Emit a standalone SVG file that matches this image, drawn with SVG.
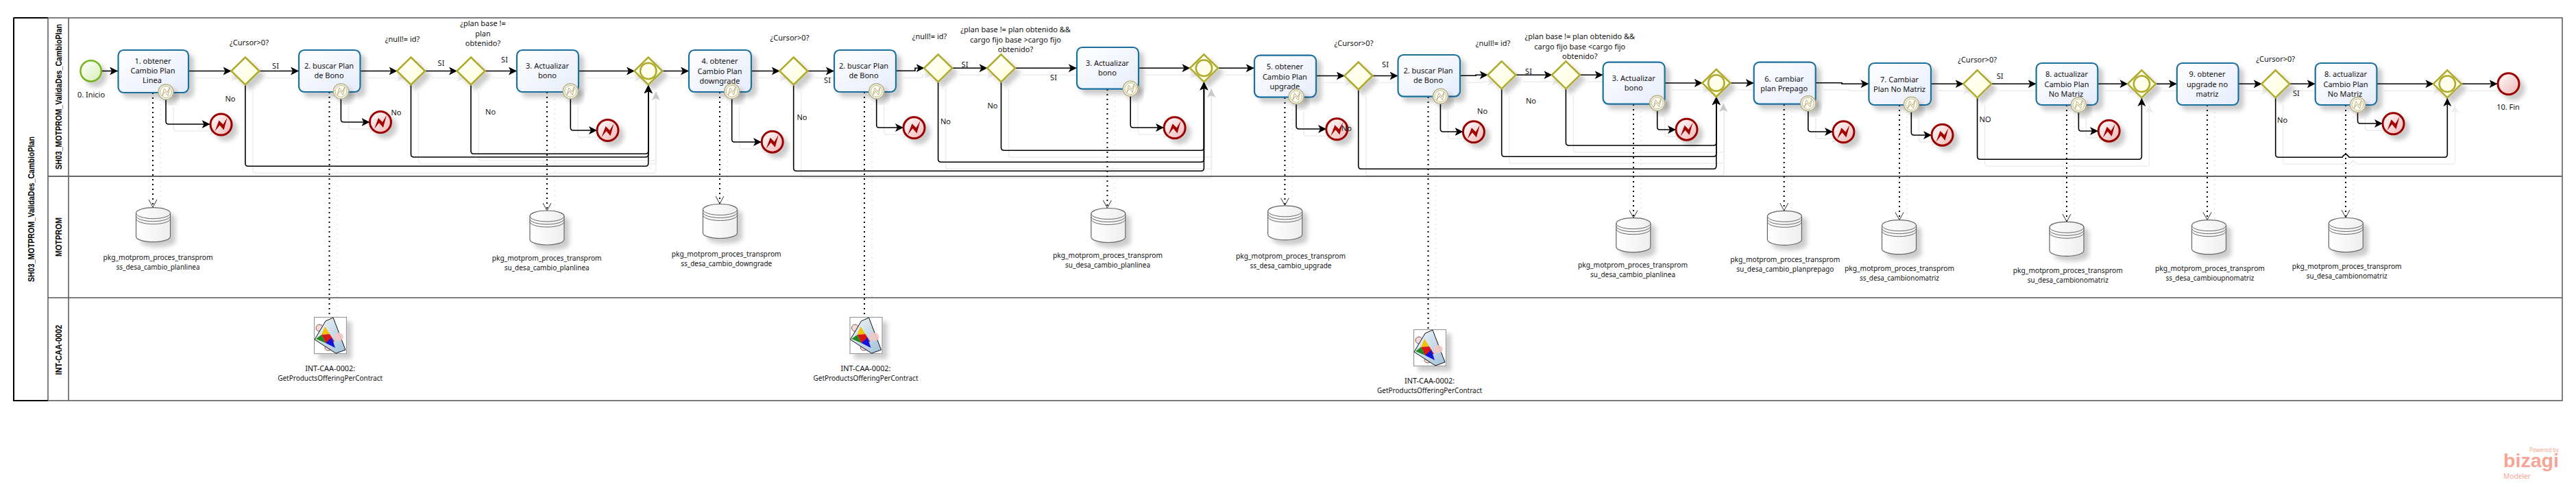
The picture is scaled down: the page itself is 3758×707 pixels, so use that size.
<svg xmlns="http://www.w3.org/2000/svg" width="3758" height="707" viewBox="0 0 3758 707">
<style>
text{font-family:"Noto Sans","Liberation Sans",sans-serif;font-size:11px;fill:#111;text-anchor:middle;dominant-baseline:central}
.head{font-family:"Liberation Sans",sans-serif;font-weight:bold;font-size:12.5px;fill:#000}
.task{fill:url(#gt);stroke:#1d6f9e;stroke-width:2.2;filter:url(#sh)}
.gw{fill:url(#gg);stroke:#aeaa2c;stroke-width:2.5;filter:url(#sh)}
.ring{fill:none;stroke:#aeaa2c;stroke-width:2.5}
.fl{fill:none;stroke:#000;stroke-width:1.6;marker-end:url(#ar)}
.dot{fill:none;stroke:#000;stroke-width:2;stroke-dasharray:2 5;marker-end:url(#op)}
.dotn{fill:none;stroke:#000;stroke-width:2;stroke-dasharray:2 5}
.lane{fill:none;stroke:#555;stroke-width:1.5}
</style>
<defs>
<linearGradient id="gt" x1="0" y1="0" x2="1" y2="1"><stop offset="0" stop-color="#fff"/><stop offset="1" stop-color="#e6ecfb"/></linearGradient>
<linearGradient id="gg" x1="0" y1="0" x2="1" y2="1"><stop offset="0" stop-color="#fff"/><stop offset="1" stop-color="#ffffd8"/></linearGradient>
<linearGradient id="gs" x1="0" y1="0" x2="1" y2="1"><stop offset="0" stop-color="#fff"/><stop offset="1" stop-color="#d8edb8"/></linearGradient>
<linearGradient id="ge" x1="0" y1="0" x2="1" y2="1"><stop offset="0" stop-color="#fff"/><stop offset="1" stop-color="#f0b4b4"/></linearGradient>
<linearGradient id="gd" x1="0" y1="0" x2="1" y2="0"><stop offset="0" stop-color="#fff"/><stop offset="1" stop-color="#eee"/></linearGradient>
<linearGradient id="gi" x1="0" y1="0" x2="1" y2="1"><stop offset="0" stop-color="#f4f8fb"/><stop offset="1" stop-color="#9fc0d8"/></linearGradient>
<filter id="sh" x="-30%" y="-30%" width="170%" height="170%"><feDropShadow dx="7" dy="7" stdDeviation="3" flood-color="#000" flood-opacity=".2"/></filter>
<marker id="ar" markerUnits="userSpaceOnUse" markerWidth="14" markerHeight="14" refX="12" refY="6" orient="auto"><path d="M0,0 L12,6 L0,12 L3,6 Z" fill="#000"/></marker>
<marker id="op" markerUnits="userSpaceOnUse" markerWidth="16" markerHeight="14" refX="12" refY="7" orient="auto"><path d="M1,1 L12,7 L1,13" fill="none" stroke="#333" stroke-width="1"/></marker>
<marker id="ag" markerUnits="userSpaceOnUse" markerWidth="14" markerHeight="14" refX="12" refY="6" orient="auto"><path d="M0,0 L12,6 L0,12 L3,6 Z" fill="#c8c8c8"/></marker>
<g id="bnd"><circle r="11" fill="#fff" stroke="#b8b184" stroke-width="1.5" filter="url(#sh)"/><circle r="8.5" fill="#fffdf3" stroke="#b8b184" stroke-width="1"/><path d="M-5.5,6 L-2.5,-5 L2,1 L5.5,-6.5 L3,5.5 L-1.5,-0.5 Z" fill="none" stroke="#b8b184" stroke-width="1"/></g>
<g id="err"><circle r="15.5" fill="url(#ge)" stroke="#9a0000" stroke-width="3" filter="url(#sh)"/><path d="M-9,10 L-3,-6 L3,0 L9,-10 L4,8 L-2,1 Z" fill="#a30000"/></g>
<g id="db"><path d="M0,8 A25,8 0 0 1 50,8 V42 A25,8 0 0 1 0,42 Z" fill="url(#gd)" stroke="#666" stroke-width="1.2" filter="url(#sh)"/><path d="M0,8 A25,8 0 0 0 50,8 M0,12 A25,8 0 0 0 50,12 M0,16 A25,8 0 0 0 50,16" fill="none" stroke="#666" stroke-width="1"/></g>
<g id="svc"><rect x=".5" y=".5" width="47" height="53" fill="#fff" stroke="#999" stroke-width="1.2" filter="url(#sh)"/>
<ellipse cx="8" cy="16" rx="5" ry="5" fill="#f5dcd8" stroke="#855"/><ellipse cx="21" cy="45" rx="5" ry="4" fill="#f5dcd8" stroke="#855"/>
<path d="M1,33 L17,6 L28,1 L46,48 L32,53 Z" fill="url(#gi)" stroke="#111" stroke-width="1"/>
<ellipse cx="36" cy="29" rx="7" ry="6" fill="#f3c8c4" opacity=".9"/>
<path d="M16,14 L23,25 L11,26 Z" fill="#f2c200"/><path d="M11,26 L23,25 L30,36 L17,38 Z" fill="#d81818"/><path d="M3,32 L11,26 L17,38 Z" fill="#1c8a1c"/><path d="M17,38 L26,30 L31,45 Z" fill="#1414d8"/></g>
</defs>

<g id="pool">
<rect x="20" y="26" width="3718" height="558" fill="none" stroke="#555" stroke-width="1.5"/>
<path d="M20,26 H70 M20,26 V584 H70" fill="none" stroke="#000" stroke-width="2"/>
<path class="lane" d="M70,26 V584 M100,26 V584 M70,434 H3738"/>
<path d="M70,257 H3738" fill="none" stroke="#666" stroke-width="2.2"/>
<text class="head" transform="translate(45.5,305) rotate(-90)" textLength="212" lengthAdjust="spacingAndGlyphs">SH03_MOTPROM_ValidaDes_CambioPlan</text>
<text class="head" transform="translate(85.5,141) rotate(-90)" textLength="212" lengthAdjust="spacingAndGlyphs">SH03_MOTPROM_ValidaDes_CambioPlan</text>
<text class="head" transform="translate(85.5,345.5) rotate(-90)" textLength="57" lengthAdjust="spacingAndGlyphs">MOTPROM</text>
<text class="head" transform="translate(85.5,510) rotate(-90)" textLength="73" lengthAdjust="spacingAndGlyphs">INT-CAA-0002</text>
</g>

<use href="#flows" transform="translate(11,10)" opacity=".07"/>
<g id="flows">
<path class="fl" d="M148,103.5 H172"/>
<path class="fl" d="M275,103.5 H337.5"/>
<path class="fl" d="M378,103.5 H436"/>
<path class="fl" d="M525.5,103.5 H579.5"/>
<path class="fl" d="M619.5,103.5 H667"/>
<path class="fl" d="M707,103.5 H754"/>
<path class="fl" d="M844,103.5 H926"/>
<path class="fl" d="M966,103.5 H1005"/>
<path class="fl" d="M1096,103.5 H1137.7"/>
<path class="fl" d="M1177.7,103.5 H1216.8"/>
<path class="fl" d="M1306.8,103.3 H1335 V99.3 H1348.6"/>
<path class="fl" d="M1388.6,99.3 H1440.5"/>
<path class="fl" d="M1480.5,99.3 H1570.8"/>
<path class="fl" d="M1660.7,99.3 H1736.4"/>
<path class="fl" d="M1776.4,99.3 H1829.7"/>
<path class="fl" d="M1919.6,110.5 H1961.7"/>
<path class="fl" d="M2001.7,110.5 H2039.5"/>
<path class="fl" d="M2130,110.3 H2153 V109.3 H2170.7"/>
<path class="fl" d="M2210.7,109.3 H2264.4"/>
<path class="fl" d="M2304.4,109.3 H2338.6"/>
<path class="fl" d="M2428.6,121 H2483.8"/>
<path class="fl" d="M2523.8,121 H2558.7"/>
<path class="fl" d="M2648.6,120.7 H2687 V122.3 H2726.4"/>
<path class="fl" d="M2817,122.3 H2864.6"/>
<path class="fl" d="M2904.6,122.3 H2970.6"/>
<path class="fl" d="M3060.3,122.3 H3104.4"/>
<path class="fl" d="M3144.4,122.3 H3175.8"/>
<path class="fl" d="M3265.5,122.3 H3299.7"/>
<path class="fl" d="M3339.7,122.3 H3377.7"/>
<path class="fl" d="M3467.4,122.3 H3550.3"/>
<path class="fl" d="M3590.3,122.3 H3643.5"/>
<path class="fl" d="M242,145 V177 Q242,181 246,181 H306.5"/>
<path class="fl" d="M497.4,144 V174 Q497.4,178 501,178 H539.5"/>
<path class="fl" d="M832.3,144 V186 Q832.3,190 836,190 H871"/>
<path class="fl" d="M1067.7,144 V203 Q1067.7,207 1071,207 H1111"/>
<path class="fl" d="M1278.7,144 V182 Q1278.7,186 1282,186 H1318"/>
<path class="fl" d="M1649.2,140 V182 Q1649.2,186 1653,186 H1698"/>
<path class="fl" d="M1891,152 V184 Q1891,188 1895,188 H1935"/>
<path class="fl" d="M2101.4,151 V188 Q2101.4,192 2105,192 H2134.5"/>
<path class="fl" d="M2417.7,161 V185 Q2417.7,189 2421,189 H2445"/>
<path class="fl" d="M2637.8,162 V188 Q2637.8,192 2642,192 H2674"/>
<path class="fl" d="M2788.3,163 V193 Q2788.3,197 2792,197 H2818"/>
<path class="fl" d="M3032.4,163 V187 Q3032.4,191 3036,191 H3061"/>
<path class="fl" d="M3439.5,163 V176 Q3439.5,180 3443,180 H3476"/>
<path class="fl" d="M357.8,124 V238 Q357.8,242.3 362,242.3 H941.5 Q945.8,242.3 945.8,238 V124"/>
<path class="fl" d="M599.5,124 V225 Q599.5,229 604,229 H941.5 Q945.8,229 945.8,225 V124"/>
<path class="fl" d="M687,124 V220 Q687,224.3 691,224.3 H941.5 Q945.8,224.3 945.8,220 V124"/>
<path class="fl" d="M1157.7,124 V245 Q1157.7,249.3 1162,249.3 H1752 Q1756.4,249.3 1756.4,245 V119.5"/>
<path class="fl" d="M1368.6,119.5 V232 Q1368.6,236.3 1373,236.3 H1752 Q1756.4,236.3 1756.4,232 V119.5"/>
<path class="fl" d="M1460.5,119.5 V215 Q1460.5,219.3 1465,219.3 H1752 Q1756.4,219.3 1756.4,215 V119.5"/>
<path class="fl" d="M1981.7,131 V242 Q1981.7,246.3 1986,246.3 H2499.5 Q2503.8,246.3 2503.8,242 V141"/>
<path class="fl" d="M2190.7,130 V224 Q2190.7,228.3 2195,228.3 H2499.5 Q2503.8,228.3 2503.8,224 V141"/>
<path class="fl" d="M2284.4,130 V208 Q2284.4,212 2289,212 H2499.5 Q2503.8,212 2503.8,208 V141"/>
<path class="fl" d="M2884.6,143 V228 Q2884.6,232.3 2889,232.3 H3120 Q3124.4,232.3 3124.4,228 V143"/>
<path class="fl" d="M3319.7,143 V225 Q3319.7,229.3 3324,229.3 H3417 Q3422,221 3427,229.3 H3566 Q3570.3,229.3 3570.3,225 V143"/>
<path class="dot" d="M223,135 V302"/>
<path class="dotn" d="M480.5,134 V462"/>
<path class="dot" d="M798,134 V307"/>
<path class="dot" d="M1050,134 V297"/>
<path class="dotn" d="M1261,134 V462"/>
<path class="dot" d="M1615.4,130 V303"/>
<path class="dot" d="M1874.4,142 V299.5"/>
<path class="dotn" d="M2083.5,141 V480"/>
<path class="dot" d="M2383,152 V317.5"/>
<path class="dot" d="M2602.7,152 V307"/>
<path class="dot" d="M2771,153 V320.5"/>
<path class="dot" d="M3015,153 V323"/>
<path class="dot" d="M3220,153 V320.5"/>
<path class="dot" d="M3422,153 V317"/>
</g>
<g id="grey-heads">
<path d="M957,144 V134" marker-end="url(#ag)" fill="none" stroke="#d0d0d0"/>
<path d="M1767,140 V130" marker-end="url(#ag)" fill="none" stroke="#d0d0d0"/>
<path d="M2514,161 V151" marker-end="url(#ag)" fill="none" stroke="#d0d0d0"/>
</g>

<g id="start"><circle cx="132.6" cy="103.5" r="15.2" fill="url(#gs)" stroke="#76b41e" stroke-width="2.5" filter="url(#sh)"/><text x="133" y="137">0. Inicio</text></g>

<g id="task1"><rect class="task" x="172.5" y="73" width="102.5" height="62" rx="8"/><text x="223" y="88">1. obtener</text><text x="223" y="102">Cambio Plan</text><text x="222" y="116">Linea</text><use href="#bnd" x="242" y="134"/></g>
<g id="err1"><use href="#err" x="322.5" y="181.5"/></g>
<g id="gw1"><path class="gw" d="M357.8,83.5 L378.3,103.5 L357.8,123.5 L337.3,103.5 Z"/><text x="363.5" y="61">¿Cursor&gt;0?</text></g>
<g id="task2"><rect class="task" x="436" y="73" width="89.5" height="61" rx="8"/><text x="480" y="95">2. buscar Plan</text><text x="480" y="109">de Bono</text><use href="#bnd" x="497.4" y="133"/></g>
<g id="err2"><use href="#err" x="555" y="178"/></g>
<g id="gw2"><path class="gw" d="M599.5,83.5 L620,103.5 L599.5,123.5 L579,103.5 Z"/><text x="587" y="56.5">¿null!= id?</text></g>
<g id="gw3"><path class="gw" d="M687,83.5 L707.5,103.5 L687,123.5 L666.5,103.5 Z"/><text x="704.5" y="33">¿plan base !=</text><text x="704.5" y="48.5">plan</text><text x="704.5" y="62">obtenido?</text></g>
<g id="task3"><rect class="task" x="754" y="73" width="90" height="61" rx="8"/><text x="798.5" y="95">3. Actualizar</text><text x="798.5" y="109">bono</text><use href="#bnd" x="832.3" y="133"/></g>
<g id="err3"><use href="#err" x="886.5" y="190"/></g>
<g id="merge1"><path class="gw" d="M945.8,83.5 L966.3,103.5 L945.8,123.5 L925.3,103.5 Z"/><circle class="ring" cx="945.8" cy="103.5" r="11.7"/></g>

<g id="task4"><rect class="task" x="1005" y="73" width="91" height="61" rx="8"/><text x="1050" y="88">4. obtener</text><text x="1050" y="103">Cambio Plan</text><text x="1050" y="117">downgrade</text><use href="#bnd" x="1067.7" y="133"/></g>
<g id="err4"><use href="#err" x="1126.7" y="206.7"/></g>
<g id="gw4"><path class="gw" d="M1157.7,83.5 L1178.2,103.5 L1157.7,123.5 L1137.2,103.5 Z"/><text x="1152" y="54">¿Cursor&gt;0?</text></g>
<g id="task2b"><rect class="task" x="1217" y="73" width="90" height="61" rx="8"/><text x="1260" y="95">2. buscar Plan</text><text x="1260" y="109">de Bono</text><use href="#bnd" x="1278.7" y="133"/></g>
<g id="err2b"><use href="#err" x="1333.5" y="186.3"/></g>
<g id="gw5"><path class="gw" d="M1368.6,79.3 L1389.1,99.3 L1368.6,119.3 L1348.1,99.3 Z"/><text x="1356" y="52">¿null!= id?</text></g>
<g id="gw6"><path class="gw" d="M1460.5,79.3 L1481,99.3 L1460.5,119.3 L1440,99.3 Z"/><text x="1481.5" y="42.7">¿plan base != plan obtenido &amp;&amp;</text><text x="1481.5" y="57.3">cargo fijo base &gt;cargo fijo</text><text x="1481.5" y="71.3">obtenido?</text></g>
<g id="task3b"><rect class="task" x="1571" y="69" width="90" height="60.7" rx="8"/><text x="1615.4" y="91.3">3. Actualizar</text><text x="1615.4" y="105.3">bono</text><use href="#bnd" x="1649.2" y="129.3"/></g>
<g id="err3b"><use href="#err" x="1713.6" y="186.3"/></g>
<g id="merge2"><path class="gw" d="M1756.4,79.3 L1776.9,99.3 L1756.4,119.3 L1735.9,99.3 Z"/><circle class="ring" cx="1756.4" cy="99.3" r="11.7"/></g>

<g id="task5"><rect class="task" x="1830" y="80.7" width="90" height="61" rx="8"/><text x="1874.4" y="96">5. obtener</text><text x="1874.4" y="111">Cambio Plan</text><text x="1874.4" y="125.3">upgrade</text><use href="#bnd" x="1891" y="140.7"/></g>
<g id="err5"><use href="#err" x="1950.3" y="188.3"/></g>
<g id="gw7"><path class="gw" d="M1981.7,90.5 L2002.2,110.5 L1981.7,130.5 L1961.2,110.5 Z"/><text x="1975" y="62">¿Cursor&gt;0?</text></g>
<g id="task2c"><rect class="task" x="2039.5" y="80" width="90.5" height="60.7" rx="8"/><text x="2083.5" y="102.3">2. buscar Plan</text><text x="2083.5" y="116.3">de Bono</text><use href="#bnd" x="2101.4" y="140.3"/></g>
<g id="err2c"><use href="#err" x="2149.9" y="192.3"/></g>
<g id="gw8"><path class="gw" d="M2190.7,89.3 L2211.2,109.3 L2190.7,129.3 L2170.2,109.3 Z"/><text x="2178" y="62.3">¿null!= id?</text></g>
<g id="gw9"><path class="gw" d="M2284.4,89.3 L2304.9,109.3 L2284.4,129.3 L2263.9,109.3 Z"/><text x="2304.8" y="52.3">¿plan base != plan obtenido &amp;&amp;</text><text x="2304.8" y="67.7">cargo fijo base &lt;cargo fijo</text><text x="2304.8" y="81.3">obtenido?</text></g>
<g id="task3c"><rect class="task" x="2338.6" y="90.7" width="90" height="61" rx="8"/><text x="2383.3" y="113.3">3. Actualizar</text><text x="2383.3" y="127.3">bono</text><use href="#bnd" x="2417.7" y="150.3"/></g>
<g id="err3c"><use href="#err" x="2460.5" y="188.7"/></g>
<g id="merge3"><path class="gw" d="M2503.8,101 L2524.3,121 L2503.8,141 L2483.3,121 Z"/><circle class="ring" cx="2503.8" cy="121" r="11.7"/></g>

<g id="task6"><rect class="task" x="2558.7" y="90.7" width="90" height="61" rx="8"/><text x="2602.7" y="114.3" xml:space="preserve">6.  cambiar</text><text x="2602.7" y="128.7">plan Prepago</text><use href="#bnd" x="2637.8" y="150.7"/></g>
<g id="err6"><use href="#err" x="2689.4" y="192.3"/></g>
<g id="task7"><rect class="task" x="2726.4" y="92" width="90.6" height="61" rx="8"/><text x="2771" y="115.3">7. Cambiar</text><text x="2771" y="129.3">Plan No Matriz</text><use href="#bnd" x="2788.3" y="152.3"/></g>
<g id="err7"><use href="#err" x="2833.5" y="196.7"/></g>
<g id="gw10"><path class="gw" d="M2884.6,102.3 L2905.1,122.3 L2884.6,142.3 L2864.1,122.3 Z"/><text x="2884.6" y="86.3">¿Cursor&gt;0?</text></g>
<g id="task8"><rect class="task" x="2970.6" y="92" width="89.7" height="61" rx="8"/><text x="3015" y="107.3">8. actualizar</text><text x="3015" y="122.3">Cambio Plan</text><text x="3014" y="136.3">No Matriz</text><use href="#bnd" x="3032.4" y="152.7"/></g>
<g id="err8"><use href="#err" x="3076.7" y="190.7"/></g>
<g id="merge4"><path class="gw" d="M3124.4,102.3 L3144.9,122.3 L3124.4,142.3 L3103.9,122.3 Z"/><circle class="ring" cx="3124.4" cy="122.3" r="11.7"/></g>
<g id="task9"><rect class="task" x="3175.8" y="92" width="89.7" height="61" rx="8"/><text x="3220" y="107.3">9. obtener</text><text x="3220" y="122.3">upgrade no</text><text x="3220" y="136.3">matriz</text></g>
<g id="gw11"><path class="gw" d="M3319.7,102.3 L3340.2,122.3 L3319.7,142.3 L3299.2,122.3 Z"/><text x="3319.7" y="85.3">¿Cursor&gt;0?</text></g>
<g id="task10"><rect class="task" x="3377.7" y="92" width="89.7" height="61" rx="8"/><text x="3422" y="107.3">8. actualizar</text><text x="3422" y="122.3">Cambio Plan</text><text x="3421" y="136.3">No Matriz</text><use href="#bnd" x="3439.5" y="152.7"/></g>
<g id="err10"><use href="#err" x="3491.5" y="180.3"/></g>
<g id="merge5"><path class="gw" d="M3570.3,102.3 L3590.8,122.3 L3570.3,142.3 L3549.8,122.3 Z"/><circle class="ring" cx="3570.3" cy="122.3" r="11.7"/></g>
<g id="end"><circle cx="3659.5" cy="122.3" r="15.5" fill="url(#ge)" stroke="#9a0000" stroke-width="3" filter="url(#sh)"/><text x="3659" y="155">10. Fin</text></g>

<g id="flow-labels">
<text x="402" y="95">SI</text><text x="336" y="143">No</text><text x="578" y="163">No</text><text x="643.5" y="91">SI</text><text x="736" y="86">SI</text><text x="715.6" y="162">No</text>
<text x="1207" y="116">SI</text><text x="1170" y="170">No</text><text x="1407.5" y="93">SI</text><text x="1379.5" y="176">No</text><text x="1537" y="112">SI</text><text x="1448" y="153">No</text><text x="1964.3" y="186.7">No</text>
<text x="2021" y="93">SI</text><text x="2162.6" y="161.3">No</text><text x="2230" y="103.3">SI</text><text x="2233.4" y="146.3">No</text>
<text x="2917.7" y="110">SI</text><text x="2896" y="173">NO</text><text x="3349.8" y="135">SI</text><text x="3329.6" y="174.3">No</text>
</g>

<g id="store1"><use href="#db" x="198.5" y="302.7"/><text x="230.5" y="374.7" textLength="160" lengthAdjust="spacingAndGlyphs">pkg_motprom_proces_transprom</text><text x="230.5" y="388.7" textLength="122" lengthAdjust="spacingAndGlyphs">ss_desa_cambio_planlinea</text></g>
<g id="store2"><use href="#db" x="773" y="307"/><text x="797.7" y="375.7" textLength="160" lengthAdjust="spacingAndGlyphs">pkg_motprom_proces_transprom</text><text x="797.7" y="389.7" textLength="124" lengthAdjust="spacingAndGlyphs">su_desa_cambio_planlinea</text></g>
<g id="store3"><use href="#db" x="1025.5" y="297.5"/><text x="1059.7" y="369.7" textLength="160" lengthAdjust="spacingAndGlyphs">pkg_motprom_proces_transprom</text><text x="1059.7" y="383.7" textLength="133" lengthAdjust="spacingAndGlyphs">ss_desa_cambio_downgrade</text></g>
<g id="store4"><use href="#db" x="1591.8" y="303.5"/><text x="1616" y="371.7" textLength="160" lengthAdjust="spacingAndGlyphs">pkg_motprom_proces_transprom</text><text x="1616" y="385.7" textLength="124" lengthAdjust="spacingAndGlyphs">su_desa_cambio_planlinea</text></g>
<g id="store5"><use href="#db" x="1849.7" y="299.8"/><text x="1883" y="372.7" textLength="160" lengthAdjust="spacingAndGlyphs">pkg_motprom_proces_transprom</text><text x="1883" y="386.7" textLength="119" lengthAdjust="spacingAndGlyphs">ss_desa_cambio_upgrade</text></g>
<g id="store6"><use href="#db" x="2357.8" y="317.7"/><text x="2382" y="385.7" textLength="160" lengthAdjust="spacingAndGlyphs">pkg_motprom_proces_transprom</text><text x="2382" y="399.7" textLength="124" lengthAdjust="spacingAndGlyphs">su_desa_cambio_planlinea</text></g>
<g id="store7"><use href="#db" x="2578.4" y="307.3"/><text x="2604.3" y="377.7" textLength="160" lengthAdjust="spacingAndGlyphs">pkg_motprom_proces_transprom</text><text x="2604.3" y="391.7" textLength="142" lengthAdjust="spacingAndGlyphs">su_desa_cambio_planprepago</text></g>
<g id="store8"><use href="#db" x="2745.5" y="320.7"/><text x="2771" y="390.7" textLength="160" lengthAdjust="spacingAndGlyphs">pkg_motprom_proces_transprom</text><text x="2771" y="404.7" textLength="116" lengthAdjust="spacingAndGlyphs">ss_desa_cambionomatriz</text></g>
<g id="store9"><use href="#db" x="2990" y="323.3"/><text x="3016.8" y="393.7" textLength="160" lengthAdjust="spacingAndGlyphs">pkg_motprom_proces_transprom</text><text x="3016.8" y="407.7" textLength="118" lengthAdjust="spacingAndGlyphs">su_desa_cambionomatriz</text></g>
<g id="store10"><use href="#db" x="3197.5" y="320.7"/><text x="3223.9" y="390.7" textLength="160" lengthAdjust="spacingAndGlyphs">pkg_motprom_proces_transprom</text><text x="3223.9" y="404.7" textLength="129" lengthAdjust="spacingAndGlyphs">ss_desa_cambioupnomatriz</text></g>
<g id="store11"><use href="#db" x="3397.3" y="317.5"/><text x="3423.7" y="387.7" textLength="160" lengthAdjust="spacingAndGlyphs">pkg_motprom_proces_transprom</text><text x="3423.7" y="401.7" textLength="118" lengthAdjust="spacingAndGlyphs">su_desa_cambionomatriz</text></g>

<g id="svc1"><use href="#svc" x="458" y="462"/><text x="481.7" y="536" textLength="73" lengthAdjust="spacingAndGlyphs">INT-CAA-0002:</text><text x="481.7" y="550" textLength="153" lengthAdjust="spacingAndGlyphs">GetProductsOfferingPerContract</text></g>
<g id="svc2"><use href="#svc" x="1239.5" y="462"/><text x="1263" y="536" textLength="73" lengthAdjust="spacingAndGlyphs">INT-CAA-0002:</text><text x="1263" y="550" textLength="153" lengthAdjust="spacingAndGlyphs">GetProductsOfferingPerContract</text></g>
<g id="svc3"><use href="#svc" x="2062" y="480"/><text x="2085.6" y="554.3" textLength="73" lengthAdjust="spacingAndGlyphs">INT-CAA-0002:</text><text x="2085.6" y="568.3" textLength="153" lengthAdjust="spacingAndGlyphs">GetProductsOfferingPerContract</text></g>

<g id="brand">
<text x="3711.5" y="655" style="font-size:8px;fill:#f2a898" textLength="43" lengthAdjust="spacingAndGlyphs">Powered by</text>
<text x="3692.5" y="681" style="font-family:'Liberation Sans',sans-serif;font-size:28px;font-weight:bold;fill:#f4a595;dominant-baseline:auto" textLength="81" lengthAdjust="spacingAndGlyphs">bizagi</text>
<text x="3672" y="694" style="font-size:10px;fill:#f2a898" textLength="40" lengthAdjust="spacingAndGlyphs">Modeler</text>
</g>
</svg>
